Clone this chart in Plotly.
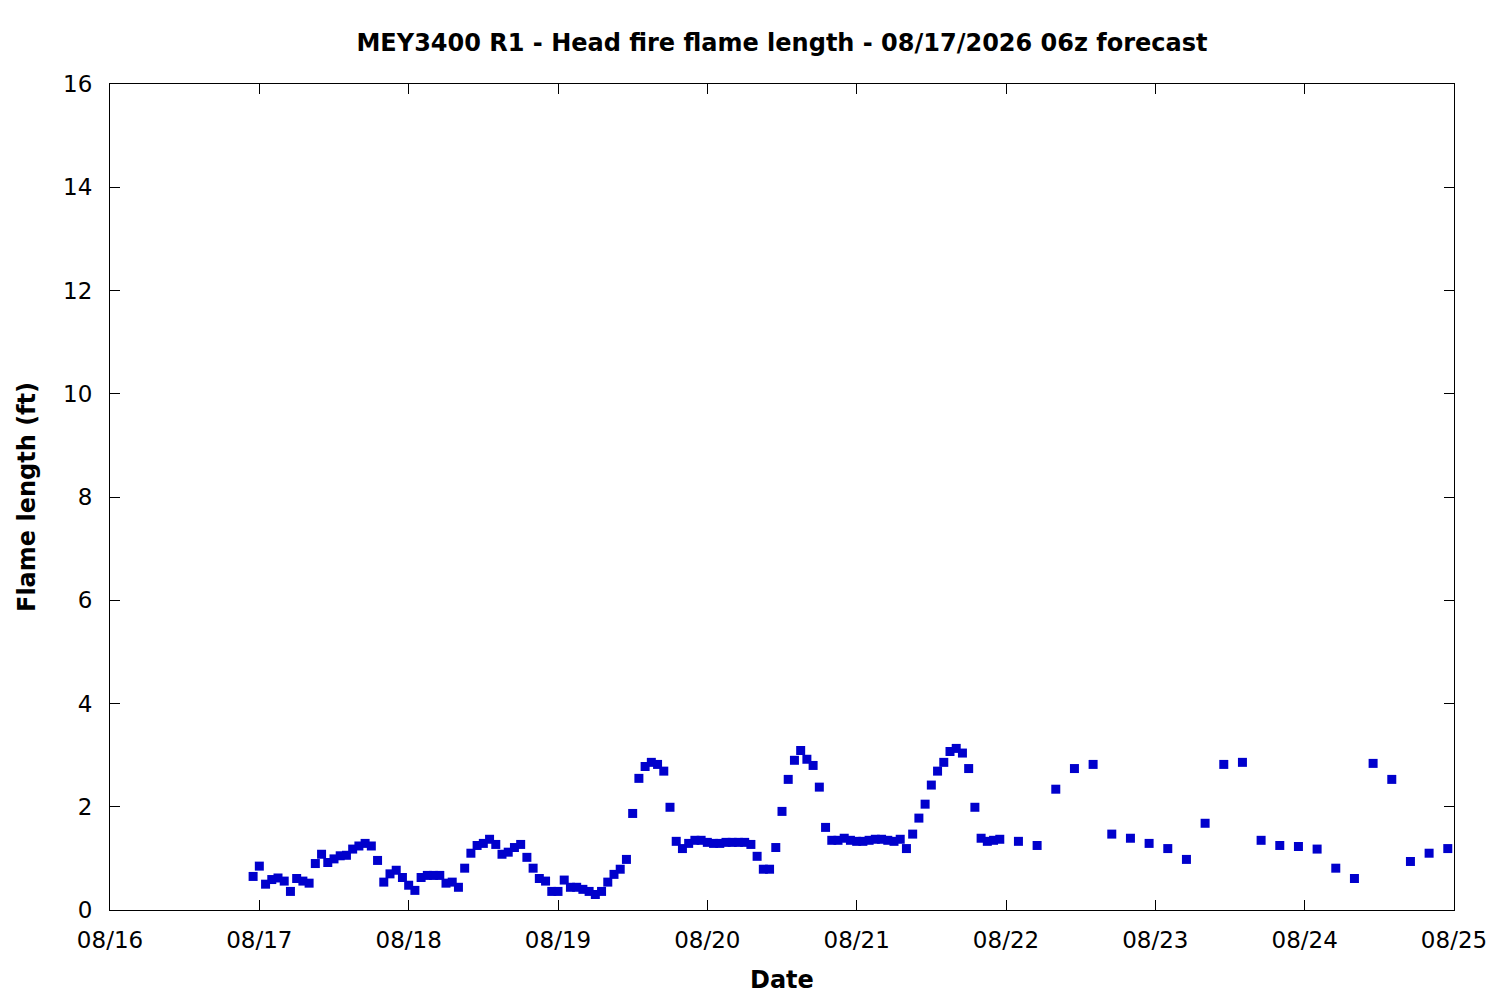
import pandas as pd
import plotly.graph_objects as go

# hourly forecast (local time) 08/16 23:00 .. 08/21 23:00
hourly_start = "2026-08-16 23:00"
hourly_end = "2026-08-21 23:00"
hourly_values = [
    0.65, 0.85, 0.50, 0.59, 0.62, 0.56, 0.36, 0.61, 0.56, 0.52,
    0.90, 1.08, 0.92, 0.99, 1.05, 1.06, 1.18, 1.24, 1.29, 1.24,
    0.96, 0.54, 0.70, 0.77, 0.63, 0.48, 0.38, 0.63, 0.67, 0.67,
    0.67, 0.52, 0.54, 0.44, 0.81, 1.10, 1.25, 1.29, 1.37, 1.27,
    1.08, 1.12, 1.21, 1.27, 1.02, 0.81, 0.61, 0.56, 0.36, 0.36,
    0.58, 0.44, 0.44, 0.40, 0.36, 0.30, 0.36, 0.54, 0.69, 0.79,
    0.98, 1.87, 2.55, 2.78, 2.86, 2.82, 2.69, 1.99, 1.33, 1.19,
    1.29, 1.35, 1.35, 1.31, 1.29, 1.29, 1.31, 1.31, 1.31, 1.31,
    1.27, 1.04, 0.79, 0.79, 1.21, 1.91, 2.53, 2.90, 3.09, 2.92,
    2.80, 2.38, 1.60, 1.35, 1.35, 1.39, 1.35, 1.33, 1.33, 1.35,
    1.37, 1.37, 1.35, 1.33, 1.37, 1.19, 1.47, 1.78, 2.05, 2.42,
    2.69, 2.86, 3.07, 3.13, 3.04, 2.74, 1.99, 1.39, 1.33, 1.35,
    1.37,
]

# 3-hourly forecast 08/22 02:00 .. 08/24 23:00
three_hourly_start = "2026-08-22 02:00"
three_hourly_end = "2026-08-24 23:00"
three_hourly_values = [
    1.33, 1.25, 2.34, 2.74, 2.82, 1.47, 1.39, 1.29,
    1.19, 0.98, 1.68, 2.82, 2.86, 1.35, 1.25, 1.23,
    1.18, 0.81, 0.61, 2.84, 2.53, 0.94, 1.10, 1.19,
]

x_range = ["2026-08-16 00:00", "2026-08-25 00:00"]
y_range = [0, 16]

title_text = "MEY3400 R1 - Head fire flame length - 08/17/2026 06z forecast"
x_title = "Date"
y_title = "Flame length (ft)"

times = list(pd.date_range(hourly_start, hourly_end, freq="1h")) + \
        list(pd.date_range(three_hourly_start, three_hourly_end, freq="3h"))
values = hourly_values + three_hourly_values

FONT = "DejaVu Sans"
BLUE = "#0000CC"
TICK_SIZE = 23
TITLE_SIZE = 24

fig = go.Figure()
fig.add_trace(go.Scatter(
    x=times, y=values, mode="markers",
    marker=dict(symbol="square", size=9, color=BLUE, line=dict(width=0)),
    showlegend=False,
))

# page is drawn with an 8px body offset; margins compensate for it
fig.update_layout(
    width=1500, height=1000,
    paper_bgcolor="white", plot_bgcolor="white",
    margin=dict(l=102, r=54, t=76, b=98),
    font=dict(family=FONT, color="black", size=TICK_SIZE),
    title=dict(text="<b>" + title_text + "</b>", x=0.5, xref="paper",
               y=1 - 35 / 1000, yref="container", yanchor="middle",
               xanchor="center", font=dict(family=FONT, size=TITLE_SIZE, color="black")),
)

fig.update_xaxes(
    type="date", range=x_range, dtick=86400000, tickformat="%m/%d",
    tick0="2026-08-16",
    showgrid=False, zeroline=False,
    showline=True, linecolor="black", linewidth=1, mirror="ticks",
    ticks="inside", ticklen=10, tickwidth=1, tickcolor="black",
    ticklabelstandoff=9,
    tickfont=dict(family=FONT, size=TICK_SIZE, color="black"),
)
fig.update_yaxes(
    range=y_range, dtick=2, showgrid=False, zeroline=False,
    showline=True, linecolor="black", linewidth=1, mirror="ticks",
    ticks="inside", ticklen=10, tickwidth=1, tickcolor="black",
    ticklabelstandoff=12,
    tickfont=dict(family=FONT, size=TICK_SIZE, color="black"),
)

fig.add_annotation(text="<b>" + x_title + "</b>", xref="paper", yref="paper",
                   x=0.5, y=-(980 - 910) / 826, xanchor="center", yanchor="middle",
                   showarrow=False, font=dict(family=FONT, size=TITLE_SIZE, color="black"))
fig.add_annotation(text="<b>" + y_title + "</b>", xref="paper", yref="paper",
                   x=-(110 - 27) / 1344, y=0.5, xanchor="center", yanchor="middle",
                   textangle=-90, showarrow=False,
                   font=dict(family=FONT, size=TITLE_SIZE, color="black"))

fig.write_html("out.html")
